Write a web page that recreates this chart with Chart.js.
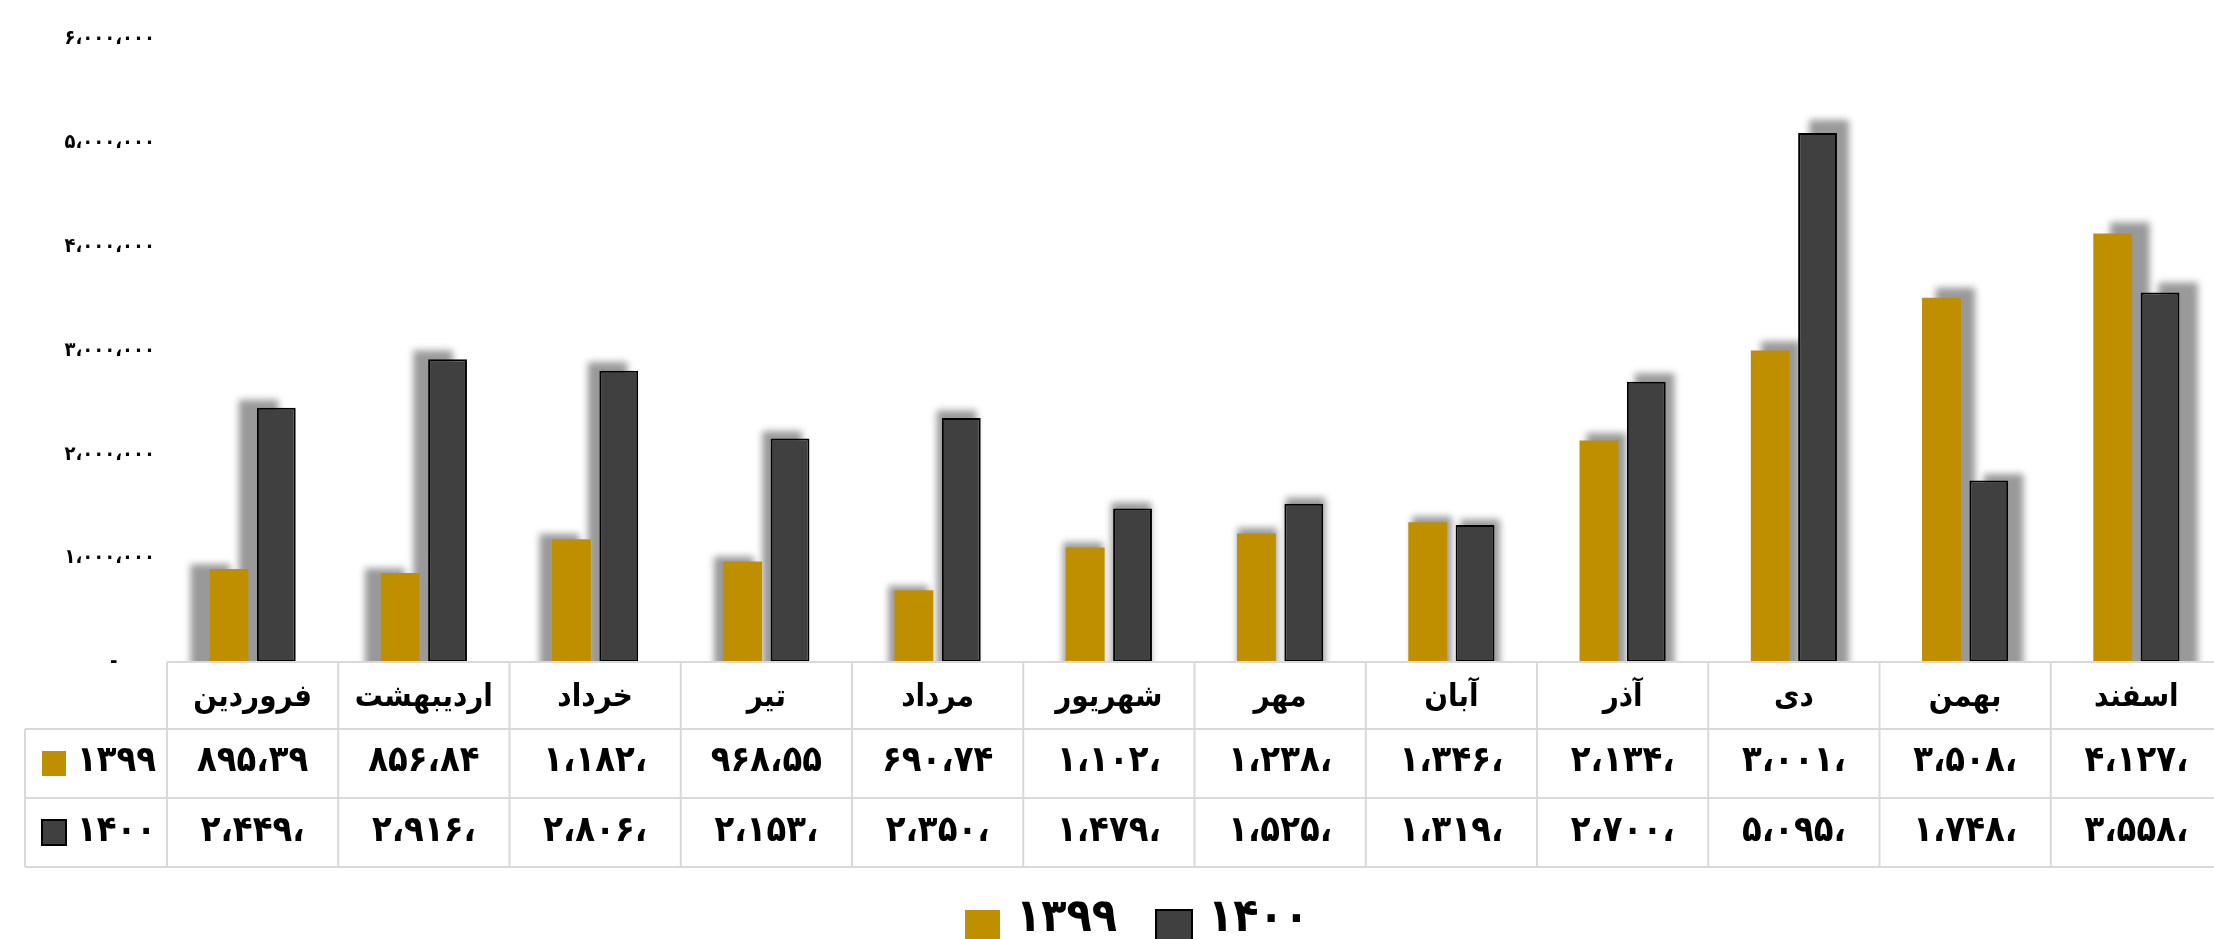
<!DOCTYPE html>
<html>
<head>
<meta charset="utf-8">
<script src="https://cdn.jsdelivr.net/npm/chart.js@4.4.0/dist/chart.umd.min.js"></script>
<style>
    html, body { margin: 0; padding: 0; background: #fff; overflow: hidden; }
    #wrap { position: relative; width: 2222px; height: 939px; }
</style>
</head>
<body>
<div id="wrap"><canvas id="chart"></canvas></div>
<script>
// داده‌ها
const months = ['فروردین', 'اردیبهشت', 'خرداد', 'تیر', 'مرداد', 'شهریور', 'مهر', 'آبان', 'آذر', 'دی', 'بهمن', 'اسفند'];
const seriesNames = ['۱۳۹۹', '۱۴۰۰'];
const values1399 = [895390, 856840, 1182000, 968550, 690740, 1102000, 1238000, 1346000, 2134000, 3001000, 3508000, 4127000];
const values1400 = [2449000, 2916000, 2806000, 2153000, 2350000, 1479000, 1525000, 1319000, 2700000, 5095000, 1748000, 3558000];
// متن جدول داده زیر نمودار
const table1399 = ['۸۹۵،۳۹', '۸۵۶،۸۴', '۱،۱۸۲،', '۹۶۸،۵۵', '۶۹۰،۷۴', '۱،۱۰۲،', '۱،۲۳۸،', '۱،۳۴۶،', '۲،۱۳۴،', '۳،۰۰۱،', '۳،۵۰۸،', '۴،۱۲۷،'];
const table1400 = ['۲،۴۴۹،', '۲،۹۱۶،', '۲،۸۰۶،', '۲،۱۵۳،', '۲،۳۵۰،', '۱،۴۷۹،', '۱،۵۲۵،', '۱،۳۱۹،', '۲،۷۰۰،', '۵،۰۹۵،', '۱،۷۴۸،', '۳،۵۵۸،'];
const yTickLabels = ['-      ', '۱،۰۰۰،۰۰۰', '۲،۰۰۰،۰۰۰', '۳،۰۰۰،۰۰۰', '۴،۰۰۰،۰۰۰', '۵،۰۰۰،۰۰۰', '۶،۰۰۰،۰۰۰'];

const GOLD = '#BF8F00';
const DARK = '#404040';
const FONT = '"DejaVu Sans Condensed", "DejaVu Sans", sans-serif';

// سایه پشت ستون‌ها (کمی بزرگ‌تر از ستون، از مرکز پایین ناحیه نمودار)
const barShadow = {
    id: 'barShadow',
    beforeDatasetsDraw(chart) {
        const ctx = chart.ctx;
        const a = chart.chartArea;
        const cx = 1210, cy = a.bottom, s = 1.019;
        ctx.save();
        ctx.beginPath();
        ctx.rect(a.left - 30, 0, a.right - a.left + 60, a.bottom);
        ctx.clip();
        ctx.filter = 'blur(3.5px)';
        ctx.fillStyle = 'rgba(0,0,0,0.4)';
        ctx.translate(cx, cy);
        ctx.scale(s, s);
        ctx.translate(-cx, -cy - 3);
        chart.data.datasets.forEach((ds, i) => {
            chart.getDatasetMeta(i).data.forEach(bar => {
                const p = bar.getProps(['x', 'y', 'base', 'width'], true);
                ctx.fillRect(p.x - p.width / 2, p.y, p.width, p.base - p.y + 10);
            });
        });
        ctx.restore();
    }
};

// جدول داده و راهنما
const dataTable = {
    id: 'dataTable',
    afterDraw(chart) {
        const ctx = chart.ctx;
        const a = chart.chartArea;
        const xs = chart.scales.x;
        const colW = (a.right - a.left) / months.length;
        const rows = [a.bottom, a.bottom + 67, a.bottom + 136, a.bottom + 205];
        const leftX = 25;

        ctx.save();
        ctx.strokeStyle = '#d9d9d9';
        ctx.lineWidth = 2;
        ctx.beginPath();
        ctx.moveTo(a.left, rows[0]); ctx.lineTo(a.right + 10, rows[0]);
        for (let r = 1; r < 4; r++) {
            ctx.moveTo(leftX, rows[r]); ctx.lineTo(a.right + 10, rows[r]);
        }
        ctx.moveTo(leftX, rows[1]); ctx.lineTo(leftX, rows[3]);
        for (let i = 0; i <= months.length; i++) {
            const x = a.left + i * colW;
            ctx.moveTo(x, rows[0]); ctx.lineTo(x, rows[3]);
        }
        ctx.stroke();

        ctx.fillStyle = '#000';
        ctx.textAlign = 'center';
        ctx.textBaseline = 'alphabetic';
        months.forEach((m, i) => {
            const cx = xs.getPixelForValue(i);
            ctx.font = 'bold 31px ' + FONT;
            ctx.fillText(m, cx, rows[0] + 44);
            ctx.font = 'bold 36px ' + FONT;
            ctx.fillText(table1399[i], cx, rows[1] + 42);
            ctx.fillText(table1400[i], cx, rows[2] + 43);
        });

        // کلید سری‌ها در جدول
        ctx.fillStyle = GOLD;
        ctx.fillRect(42, rows[1] + 22, 24, 25);
        ctx.fillStyle = DARK;
        ctx.fillRect(42, rows[2] + 22, 24, 25);
        ctx.strokeStyle = '#000';
        ctx.lineWidth = 2;
        ctx.strokeRect(42, rows[2] + 22, 24, 25);
        ctx.fillStyle = '#000';
        ctx.textAlign = 'left';
        ctx.font = 'bold 36px ' + FONT;
        ctx.fillText(seriesNames[0], 77, rows[1] + 42);
        ctx.fillText(seriesNames[1], 77, rows[2] + 43);

        // راهنمای پایین
        ctx.fillStyle = GOLD;
        ctx.fillRect(965, 910, 35, 40);
        ctx.fillStyle = DARK;
        ctx.fillRect(1156, 910, 36, 40);
        ctx.strokeStyle = '#000';
        ctx.strokeRect(1156, 910, 36, 40);
        ctx.fillStyle = '#000';
        ctx.font = 'bold 46px ' + FONT;
        ctx.fillText(seriesNames[0], 1016, 931);
        ctx.fillText(seriesNames[1], 1208, 931);
        ctx.restore();
    }
};

new Chart(document.getElementById('chart'), {
    type: 'bar',
    data: {
        labels: months,
        datasets: [{
            label: seriesNames[0],
            data: values1399,
            backgroundColor: GOLD,
            borderWidth: 0,
            categoryPercentage: 0.553,
            barPercentage: 0.82
        }, {
            label: seriesNames[1],
            data: values1400,
            backgroundColor: DARK,
            borderColor: '#000',
            borderWidth: 2,
            borderSkipped: false,
            categoryPercentage: 0.553,
            barPercentage: 0.82
        }]
    },
    options: {
        responsive: true,
        maintainAspectRatio: false,
        animation: false,
        layout: { padding: { top: 39, bottom: 277, left: 0, right: 0 } },
        scales: {
            x: { display: false },
            y: {
                min: 0,
                max: 6000000,
                border: { display: false },
                grid: { display: false, drawTicks: false },
                afterFit(scale) { scale.width = 167; },
                ticks: {
                    stepSize: 1000000,
                    padding: 12,
                    color: '#000',
                    font: { family: FONT, size: 20, weight: 'bold' },
                    callback: function(value) {
                        return yTickLabels[Math.round(value / 1000000)];
                    }
                }
            }
        },
        plugins: {
            legend: { display: false },
            tooltip: { enabled: false }
        }
    },
    plugins: [barShadow, dataTable]
});
</script>
</body>
</html>
